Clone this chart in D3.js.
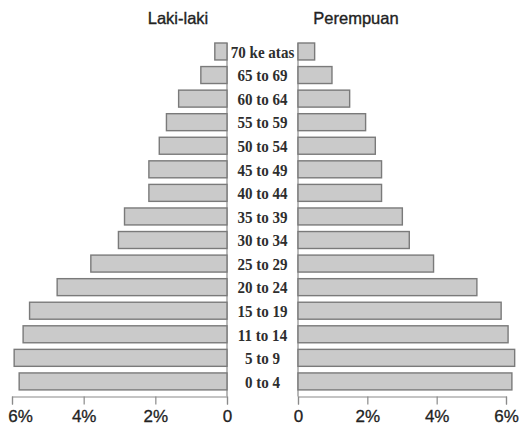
<!DOCTYPE html>
<html>
<head>
<meta charset="utf-8">
<script src="https://cdn.jsdelivr.net/npm/d3@7"></script>
<style>
  html, body { margin: 0; padding: 0; background: #fff; }
  svg { display: block; }
</style>
</head>
<body>
<svg id="chart" width="529" height="431"></svg>
<script>
// Age groups (youngest first)
const ageGroups = ["0 to 4", "5 to 9", "11 to 14", "15 to 19", "20 to 24", "25 to 29", "30 to 34",
  "35 to 39", "40 to 44", "45 to 49", "50 to 54", "55 to 59", "60 to 64", "65 to 69", "70 ke atas"];
// Percent of population
const maleValues = [5.80, 5.94, 5.69, 5.51, 4.74, 3.80, 3.03, 2.86, 2.18, 2.18, 1.89, 1.69, 1.35, 0.73, 0.34];
const femaleValues = [6.17, 6.25, 6.06, 5.86, 5.16, 3.91, 3.21, 3.01, 2.41, 2.41, 2.23, 1.95, 1.49, 0.98, 0.48];
const tickValues = [0, 2, 4, 6];
const titles = ["Laki-laki", "Perempuan"];

const svg = d3.select("#chart");

const y = d3.scaleBand()
  .domain(ageGroups.slice().reverse())
  .range([36.4, 396.5])
  .paddingInner(0.28)
  .paddingOuter(0.28);

const xLeft = d3.scaleLinear().domain([0, 6]).range([227, 12]);
const xRight = d3.scaleLinear().domain([0, 6]).range([298, 506]);

const barFill = "#cacaca", barStroke = "#7a7a7a";
const axisY = 396.5;

// spines
[xLeft(0), xRight(0)].forEach(x => {
  svg.append("line")
    .attr("x1", x).attr("x2", x)
    .attr("y1", y(ageGroups[ageGroups.length - 1])).attr("y2", axisY)
    .attr("stroke", "#8a8a8a").attr("stroke-width", 1.2);
});

// male bars
svg.append("g").selectAll("rect")
  .data(ageGroups.map((a, i) => ({ a, v: maleValues[i] })))
  .join("rect")
  .attr("x", d => xLeft(d.v))
  .attr("y", d => y(d.a))
  .attr("width", d => xLeft(0) - xLeft(d.v))
  .attr("height", y.bandwidth())
  .attr("fill", barFill)
  .attr("stroke", barStroke)
  .attr("stroke-width", 1.4);

// female bars
svg.append("g").selectAll("rect")
  .data(ageGroups.map((a, i) => ({ a, v: femaleValues[i] })))
  .join("rect")
  .attr("x", xRight(0))
  .attr("y", d => y(d.a))
  .attr("width", d => xRight(d.v) - xRight(0))
  .attr("height", y.bandwidth())
  .attr("fill", barFill)
  .attr("stroke", barStroke)
  .attr("stroke-width", 1.4);

// age labels (tall, condensed serif)
const cx = (xLeft(0) + xRight(0)) / 2;
svg.append("g").selectAll("text")
  .data(ageGroups)
  .join("text")
  .attr("transform", d => `translate(${cx},${y(d) + y.bandwidth() / 2}) scale(0.86,1)`)
  .attr("dy", "0.36em")
  .attr("text-anchor", "middle")
  .attr("font-family", "'Liberation Serif', 'DejaVu Serif', serif")
  .attr("font-weight", "bold")
  .attr("font-size", 17.5)
  .attr("fill", "#2e2e2e")
  .text(d => d);

// axes
const fmt = v => v === 0 ? "0" : v + "%";
function styleAxis(g) {
  g.select(".domain").attr("stroke", "#8a8a8a").attr("stroke-width", 1.2);
  g.selectAll(".tick line").attr("stroke", "#8a8a8a").attr("stroke-width", 1.2);
  g.selectAll(".tick text")
    .attr("font-family", "'Liberation Sans', Arial, sans-serif")
    .attr("font-size", 17)
    .attr("fill", "#222")
    .attr("stroke", "#222")
    .attr("stroke-width", 0.3)
    .attr("dy", "0.85em");
}
const gL = svg.append("g").attr("transform", `translate(0,${axisY})`)
  .call(d3.axisBottom(xLeft).tickValues(tickValues).tickFormat(fmt).tickSize(8).tickSizeOuter(8));
styleAxis(gL);
gL.selectAll(".tick text").filter(d => d === 6).attr("dx", 8);

const gR = svg.append("g").attr("transform", `translate(0,${axisY})`)
  .call(d3.axisBottom(xRight).tickValues(tickValues).tickFormat(fmt).tickSize(8).tickSizeOuter(8));
styleAxis(gR);

// titles
svg.append("g").selectAll("text")
  .data(titles)
  .join("text")
  .attr("x", (d, i) => i === 0 ? 178 : 356)
  .attr("y", 24)
  .attr("text-anchor", "middle")
  .attr("font-family", "'Liberation Sans', Arial, sans-serif")
  .attr("font-size", 16.5)
  .attr("fill", "#222")
  .attr("stroke", "#222")
  .attr("stroke-width", 0.35)
  .text(d => d);
</script>
</body>
</html>
